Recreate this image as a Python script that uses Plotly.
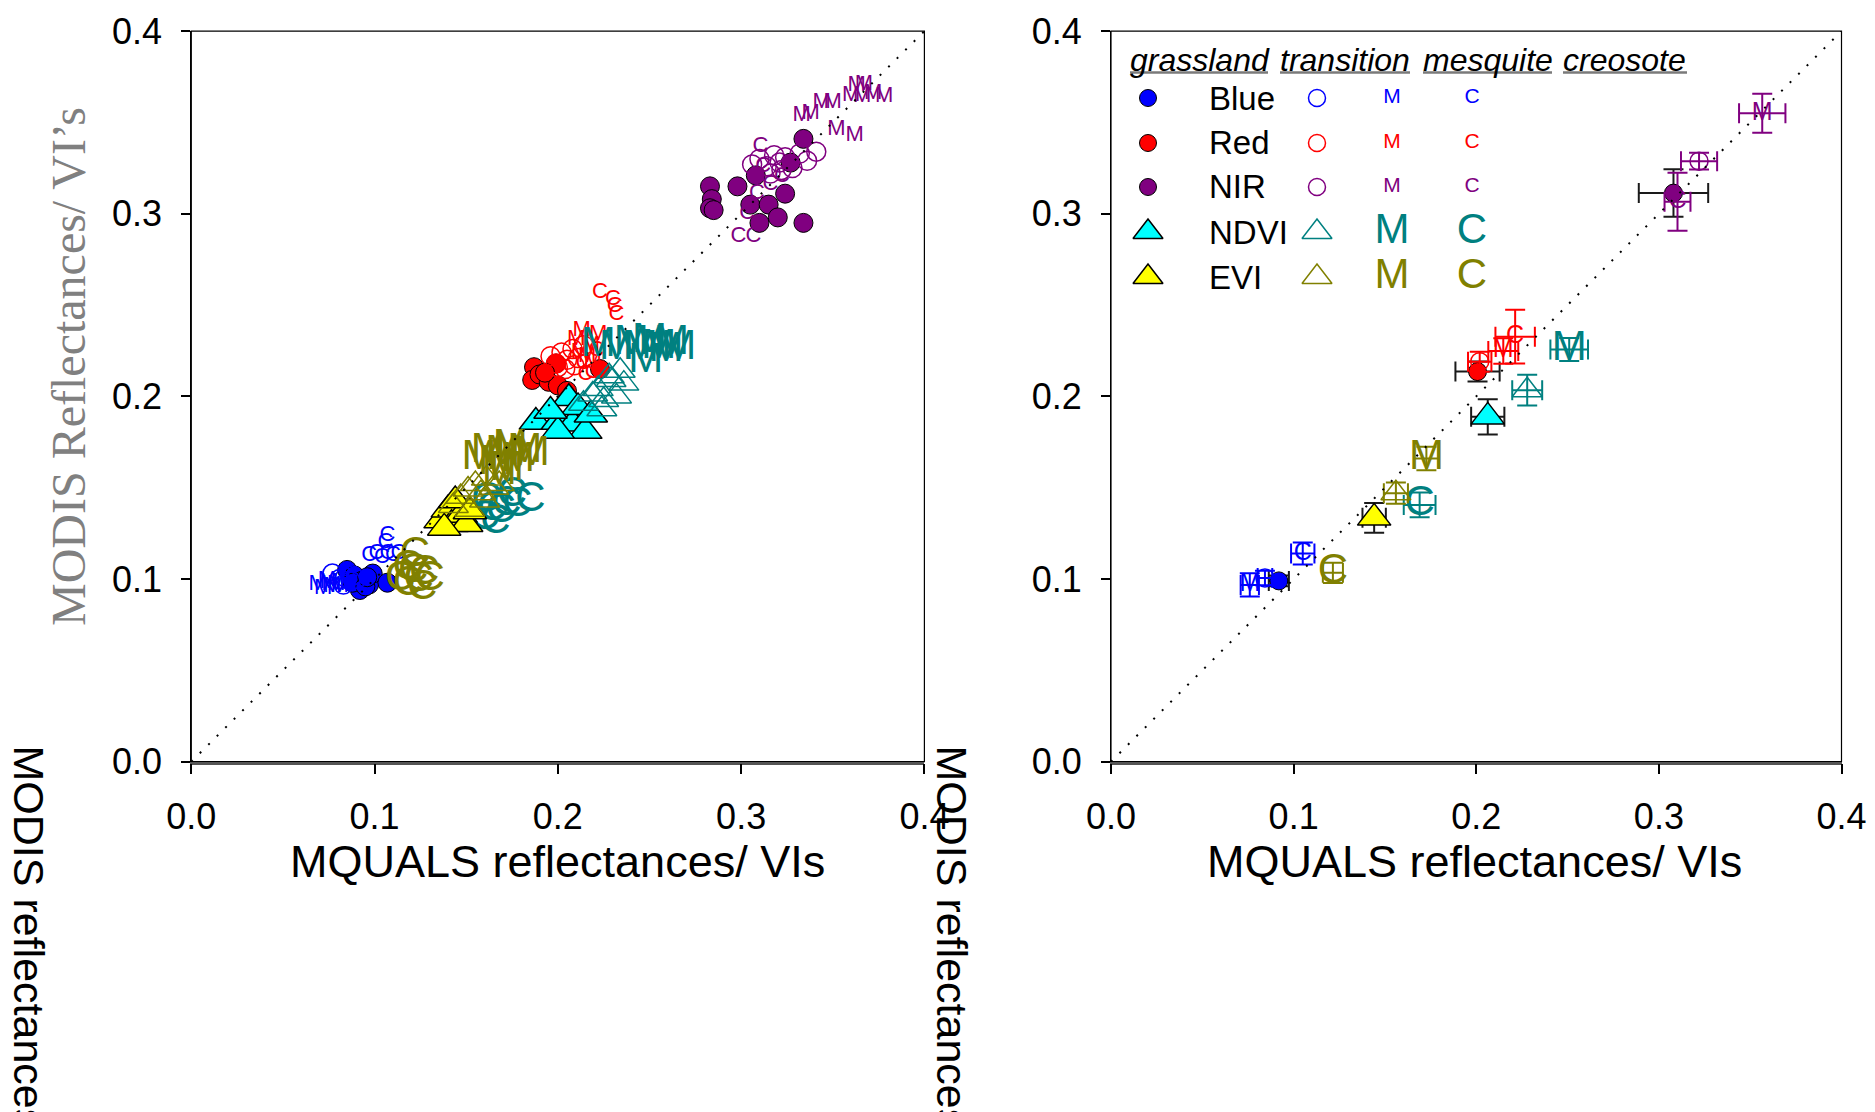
import plotly.graph_objects as go

W, H = 1875, 1112
FONT = "Liberation Sans, Arial, sans-serif"
SERIF = "Liberation Serif, Times New Roman, serif"

# ---------------- colours ----------------
C_BLUE, C_RED, C_NIR = "#0000FF", "#FF0000", "#800080"
C_CYAN, C_TEAL, C_YEL, C_OLIVE = "#00FFFF", "#008080", "#FFFF00", "#808000"

bands = ["Blue", "Red", "NIR", "NDVI", "EVI"]
sites = ["grassland", "transition", "mesquite", "creosote"]
ticks = [0.0, 0.1, 0.2, 0.3, 0.4]

# ---------------- left panel: individual observations (MQUALS x, MODIS y) ----------------
blue_g_x = [0.085, 0.089, 0.093, 0.097, 0.099, 0.092, 0.088, 0.095, 0.107, 0.096]
blue_g_y = [0.105, 0.102, 0.099, 0.097, 0.103, 0.094, 0.098, 0.096, 0.098, 0.101]
blue_t_x = [0.077, 0.081, 0.084, 0.087, 0.090, 0.083, 0.088]
blue_t_y = [0.103, 0.100, 0.101, 0.099, 0.100, 0.097, 0.102]
blue_m_x = [0.069, 0.072, 0.075, 0.077, 0.079, 0.074, 0.081]
blue_m_y = [0.097, 0.095, 0.098, 0.096, 0.097, 0.099, 0.096]
blue_c_x = [0.097, 0.101, 0.104, 0.107, 0.110, 0.113, 0.106, 0.107]
blue_c_y = [0.113, 0.114, 0.112, 0.114, 0.113, 0.114, 0.120, 0.124]

red_g_x = [0.187, 0.186, 0.190, 0.195, 0.200, 0.199, 0.205, 0.223, 0.193]
red_g_y = [0.216, 0.209, 0.212, 0.208, 0.206, 0.218, 0.203, 0.215, 0.213]
red_t_x = [0.196, 0.199, 0.202, 0.205, 0.208, 0.211, 0.214, 0.204, 0.209, 0.200]
red_t_y = [0.222, 0.218, 0.224, 0.220, 0.226, 0.221, 0.228, 0.215, 0.217, 0.216]
red_m_x = [0.210, 0.213, 0.218, 0.222, 0.216, 0.212, 0.219]
red_m_y = [0.231, 0.236, 0.228, 0.234, 0.222, 0.224, 0.219]
red_c_x = [0.223, 0.230, 0.231, 0.232, 0.219, 0.215, 0.221, 0.214]
red_c_y = [0.257, 0.253, 0.249, 0.245, 0.213, 0.212, 0.225, 0.218]

nir_g_x = [0.283, 0.284, 0.283, 0.285, 0.298, 0.308, 0.305, 0.315, 0.310, 0.320, 0.324, 0.327, 0.334, 0.334]
nir_g_y = [0.315, 0.308, 0.303, 0.302, 0.315, 0.321, 0.305, 0.305, 0.295, 0.298, 0.311, 0.328, 0.295, 0.341]
nir_t_x = [0.306, 0.310, 0.314, 0.318, 0.321, 0.324, 0.328, 0.332, 0.336, 0.341, 0.316, 0.322]
nir_t_y = [0.327, 0.330, 0.326, 0.332, 0.328, 0.331, 0.325, 0.333, 0.329, 0.334, 0.322, 0.324]
nir_m_x = [0.333, 0.338, 0.344, 0.350, 0.360, 0.366, 0.372, 0.378, 0.363, 0.367, 0.352, 0.362]
nir_m_y = [0.354, 0.355, 0.361, 0.361, 0.365, 0.364, 0.366, 0.364, 0.370, 0.371, 0.346, 0.343]
nir_c_x = [0.3105, 0.3087, 0.3033, 0.2985, 0.3067, 0.3223, 0.316, 0.312]
nir_c_y = [0.3367, 0.3112, 0.3002, 0.2874, 0.2874, 0.3203, 0.316, 0.326]

ndvi_g_x = [0.188, 0.200, 0.206, 0.208, 0.215, 0.200, 0.211, 0.218, 0.196]
ndvi_g_y = [0.186, 0.186, 0.199, 0.185, 0.181, 0.181, 0.194, 0.190, 0.192]
ndvi_t_x = [0.214, 0.219, 0.222, 0.225, 0.229, 0.232, 0.234, 0.236, 0.224, 0.228]
ndvi_t_y = [0.196, 0.201, 0.204, 0.198, 0.209, 0.200, 0.214, 0.207, 0.193, 0.211]
ndvi_m_x = [0.222, 0.232, 0.240, 0.245, 0.250, 0.255, 0.259, 0.262, 0.266, 0.248]
ndvi_m_y = [0.228, 0.226, 0.229, 0.226, 0.230, 0.227, 0.225, 0.229, 0.226, 0.219]
ndvi_c_x = [0.161, 0.160, 0.166, 0.172, 0.178, 0.185, 0.169, 0.175, 0.164]
ndvi_c_y = [0.143, 0.133, 0.131, 0.141, 0.140, 0.143, 0.137, 0.146, 0.138]

evi_g_x = [0.136, 0.140, 0.142, 0.147, 0.144, 0.150, 0.138, 0.152]
evi_g_y = [0.132, 0.138, 0.130, 0.135, 0.143, 0.130, 0.128, 0.137]
evi_t_x = [0.143, 0.147, 0.151, 0.155, 0.158, 0.161, 0.165, 0.152, 0.160, 0.168]
evi_t_y = [0.140, 0.145, 0.149, 0.152, 0.147, 0.155, 0.150, 0.138, 0.143, 0.152]
evi_m_x = [0.157, 0.162, 0.166, 0.170, 0.174, 0.178, 0.182, 0.186, 0.172, 0.168]
evi_m_y = [0.166, 0.170, 0.163, 0.169, 0.172, 0.165, 0.170, 0.168, 0.160, 0.158]
evi_c_x = [0.114, 0.118, 0.121, 0.124, 0.127, 0.130, 0.118, 0.122, 0.126]
evi_c_y = [0.100, 0.097, 0.104, 0.099, 0.103, 0.100, 0.106, 0.113, 0.095]

# ---------------- right panel: site means +/- error (order: grassland, transition, mesquite, creosote) ----
blue_mean_x = [0.0919, 0.0843, 0.0760, 0.1050]
blue_mean_y = [0.0990, 0.1006, 0.0968, 0.1140]
blue_err_x = [0.0055, 0.0040, 0.0050, 0.0064]
blue_err_y = [0.0030, 0.0040, 0.0064, 0.0060]

red_mean_x = [0.2007, 0.2019, 0.2148, 0.2213]
red_mean_y = [0.2136, 0.2190, 0.2249, 0.2327]
red_err_x = [0.0121, 0.0064, 0.0082, 0.0108]
red_err_y = [0.0055, 0.0055, 0.0070, 0.0147]

nir_mean_x = [0.3080, 0.3220, 0.3566, 0.3102]
nir_mean_y = [0.3113, 0.3288, 0.3550, 0.3066]
nir_err_x = [0.0190, 0.0099, 0.0127, 0.0071]
nir_err_y = [0.0130, 0.0046, 0.0107, 0.0159]

ndvi_mean_x = [0.2063, 0.2279, 0.2509, 0.1690]
ndvi_mean_y = [0.1888, 0.2034, 0.2257, 0.1406]
ndvi_err_x = [0.0091, 0.0082, 0.0103, 0.0087]
ndvi_err_y = [0.0096, 0.0084, 0.0063, 0.0068]

evi_mean_x = [0.1441, 0.1560, 0.1727, 0.1215]
evi_mean_y = [0.1335, 0.1470, 0.1660, 0.1034]
evi_err_x = [0.0064, 0.0066, 0.0068, 0.0055]
evi_err_y = [0.0082, 0.0058, 0.0064, 0.0055]

# ---------------- text ----------------
x_title = "MQUALS reflectances/ VIs"
y_title_left = "MODIS Reflectances/ VI\u2019s"
y_title_clipped = "MODIS reflectances/ VIs"
legend_header = ["grassland", "transition", "mesquite", "creosote"]

# ---------------- assemble tables ----------------
raw = {
    "Blue": [(blue_g_x, blue_g_y), (blue_t_x, blue_t_y), (blue_m_x, blue_m_y), (blue_c_x, blue_c_y)],
    "Red": [(red_g_x, red_g_y), (red_t_x, red_t_y), (red_m_x, red_m_y), (red_c_x, red_c_y)],
    "NIR": [(nir_g_x, nir_g_y), (nir_t_x, nir_t_y), (nir_m_x, nir_m_y), (nir_c_x, nir_c_y)],
    "NDVI": [(ndvi_g_x, ndvi_g_y), (ndvi_t_x, ndvi_t_y), (ndvi_m_x, ndvi_m_y), (ndvi_c_x, ndvi_c_y)],
    "EVI": [(evi_g_x, evi_g_y), (evi_t_x, evi_t_y), (evi_m_x, evi_m_y), (evi_c_x, evi_c_y)],
}
means = {
    "Blue": (blue_mean_x, blue_mean_y, blue_err_x, blue_err_y),
    "Red": (red_mean_x, red_mean_y, red_err_x, red_err_y),
    "NIR": (nir_mean_x, nir_mean_y, nir_err_x, nir_err_y),
    "NDVI": (ndvi_mean_x, ndvi_mean_y, ndvi_err_x, ndvi_err_y),
    "EVI": (evi_mean_x, evi_mean_y, evi_err_x, evi_err_y),
}
band_color = {"Blue": C_BLUE, "Red": C_RED, "NIR": C_NIR, "NDVI": C_TEAL, "EVI": C_OLIVE}
fill_color = {"Blue": C_BLUE, "Red": C_RED, "NIR": C_NIR, "NDVI": C_CYAN, "EVI": C_YEL}


def style(band, si, scale="data"):
    """Return scatter kwargs for a band/site combination."""
    refl = band in ("Blue", "Red", "NIR")
    col = band_color[band]
    if si == 0:
        if refl:
            sz = 19 if scale == "data" else (18 if scale == "mean" else 17)
            mk = dict(symbol="circle", size=sz, color=fill_color[band], line=dict(color="black", width=1))
        else:
            sz = 29 if scale != "legend" else 26
            mk = dict(symbol="triangle-up", size=sz, color=fill_color[band], line=dict(color="black", width=1.5))
        return dict(mode="markers", marker=mk)
    if si == 1:
        if refl:
            sz = 19 if scale == "data" else (18 if scale == "mean" else 17)
            mk = dict(symbol="circle-open", size=sz, color=col, line=dict(width=1.5))
        else:
            mk = dict(symbol="triangle-up-open", size=26, color=col, line=dict(width=1.5))
        return dict(mode="markers", marker=mk)
    letter = "M" if si == 2 else "C"
    if refl:
        fs = {"data": 22, "mean": 25, "legend": 21}[scale]
    else:
        fs = 42
    return dict(mode="text", text=None, textposition="middle center",
                textfont=dict(size=fs, color=col, family=FONT), _letter=letter)


fig = go.Figure()


def add(band, si, xs, ys, xa, ya, scale, ex=None, ey=None):
    st = style(band, si, scale)
    letter = st.pop("_letter", None)
    if letter:
        st["text"] = [letter] * len(xs)
    kw = {}
    if ex is not None:
        ecol = "#1a1a1a" if si == 0 else band_color[band]
        kw["error_x"] = dict(type="data", array=ex, color=ecol, thickness=2, width=10)
        kw["error_y"] = dict(type="data", array=ey, color=ecol, thickness=2, width=10)
    fig.add_trace(go.Scatter(x=xs, y=ys, xaxis=xa, yaxis=ya, showlegend=False,
                             hoverinfo="skip", cliponaxis=False, **st, **kw))


# left panel
for band in bands:
    for si in range(4):
        xs, ys = raw[band][si]
        add(band, si, xs, ys, "x", "y", "data")

# right panel
for band in bands:
    mx, my, ex, ey = means[band]
    for si in range(4):
        add(band, si, [mx[si]], [my[si]], "x2", "y2", "mean", [ex[si]], [ey[si]])

# 1:1 lines
for xa, ya in (("x", "y"), ("x2", "y2")):
    fig.add_trace(go.Scatter(x=[0, 0.4], y=[0, 0.4], xaxis=xa, yaxis=ya, mode="lines",
                             line=dict(color="black", width=2, dash="2px,10px"),
                             showlegend=False, hoverinfo="skip"))

# ---------------- legend (pixel axes) ----------------
leg_rows = [98, 143, 187, 232, 277]
leg_cols = [1148, 1317, 1392, 1472]
for bi, band in enumerate(bands):
    for si in range(4):
        add(band, si, [leg_cols[si]], [leg_rows[bi]], "x3", "y3", "legend")

annotations = []


def txt(text, px, py, size, color="black", family=FONT, xanchor="center", yanchor="middle", angle=0):
    annotations.append(dict(text=text, x=px / W, y=1 - py / H, xref="paper", yref="paper",
                            showarrow=False, font=dict(size=size, color=color, family=family),
                            xanchor=xanchor, yanchor=yanchor, textangle=angle))


for bi, band in enumerate(bands):
    txt(band, 1207, leg_rows[bi], 33, xanchor="left")

hdr_x = [(1130, 1268), (1280, 1410), (1423, 1552), (1563, 1687)]
shapes = []
for word, (x0, x1) in zip(legend_header, hdr_x):
    txt("<i>%s</i>" % word, x0 - 2, 60, 32, xanchor="left")
    shapes.append(dict(type="line", xref="paper", yref="paper", x0=x0 / W, x1=x1 / W,
                       y0=1 - 72.5 / H, y1=1 - 72.5 / H, line=dict(color="#7a7a7a", width=2.5)))

# axis titles
txt(x_title, 557, 861, 45)
txt(x_title, 1474, 861, 45)
txt(y_title_left, 68, 367, 48, color="#808080", family=SERIF, angle=-90)
txt(y_title_clipped, 29, 743, 43, xanchor="center", yanchor="top", angle=90)
txt(y_title_clipped, 952, 743, 43, xanchor="center", yanchor="top", angle=90)

# frames
for xr, yr in (("x", "y"), ("x2", "y2")):
    shapes.append(dict(type="rect", xref=xr + " domain", yref=yr + " domain", x0=0, x1=1, y0=0, y1=1,
                       line=dict(color="black", width=1.2), layer="below"))

L = (191.3, 924.4)
R = (1111.0, 1841.5)
Y = (31.1, 761.7)
ydom = [1 - Y[1] / H, 1 - Y[0] / H]


def xaxis(dom, anchor):
    return dict(domain=[dom[0] / W, dom[1] / W], range=[0, 0.4], anchor=anchor, automargin=False,
                tickvals=ticks, tickformat=".1f", ticks="outside", ticklen=10, tickwidth=1.5,
                tickcolor="black", showgrid=False, zeroline=False, showline=True,
                linecolor="#555555", linewidth=2.5, tickfont=dict(size=36, family=FONT, color="black"),
                ticklabelstandoff=11, fixedrange=True)


def yaxis(anchor):
    return dict(domain=ydom, range=[0, 0.4], anchor=anchor, automargin=False,
                tickvals=ticks, tickformat=".1f", ticks="outside", ticklen=9, tickwidth=1.5,
                tickcolor="black", showgrid=False, zeroline=False, showline=True,
                linecolor="black", linewidth=1.2, tickfont=dict(size=36, family=FONT, color="black"),
                ticklabelstandoff=12, fixedrange=True)


fig.update_layout(
    template="none",
    width=W, height=H, autosize=False,
    margin=dict(l=0, r=0, t=0, b=0, pad=0, autoexpand=False),
    paper_bgcolor="white", plot_bgcolor="rgba(0,0,0,0)",
    font=dict(family=FONT, color="black"),
    xaxis=xaxis(L, "y"), yaxis=yaxis("x"),
    xaxis2=xaxis(R, "y2"), yaxis2=yaxis("x2"),
    xaxis3=dict(domain=[0, 1], range=[0, W], visible=False, anchor="y3", fixedrange=True, automargin=False),
    yaxis3=dict(domain=[0, 1], range=[H, 0], visible=False, anchor="x3", fixedrange=True, automargin=False),
    annotations=annotations, shapes=shapes, showlegend=False,
)

fig.write_html("out.html")
